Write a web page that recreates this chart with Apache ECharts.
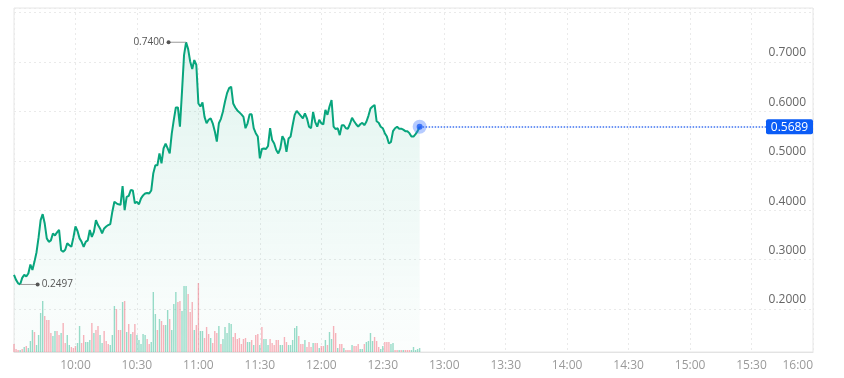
<!DOCTYPE html>
<html><head><meta charset="utf-8">
<script src="https://cdn.jsdelivr.net/npm/echarts@6/dist/echarts.min.js"></script>
<style>html,body{margin:0;padding:0;background:#fff}#c{width:844px;height:378px}</style>
</head><body><div id="c"></div>
<script>
// one value per minute, starting at 09:30
const tickLabels = ['09:30','10:00','10:30','11:00','11:30','12:00','12:30','13:00','13:30','14:00','14:30','15:00','15:30','16:00'];
const sessionMinutes = 390;
const price = [
0.269,0.259,0.252,0.2497,0.263,0.269,0.266,0.272,0.290,0.279,
0.296,0.315,0.345,0.380,0.392,0.373,0.343,0.336,0.339,0.353,
0.349,0.355,0.360,0.319,0.316,0.320,0.333,0.329,0.326,0.345,
0.367,0.358,0.343,0.336,0.326,0.336,0.339,0.360,0.346,0.356,
0.380,0.370,0.363,0.353,0.363,0.367,0.370,0.372,0.397,0.417,
0.414,0.412,0.411,0.449,0.400,0.427,0.429,0.441,0.440,0.414,
0.417,0.412,0.424,0.430,0.434,0.435,0.434,0.440,0.475,0.491,
0.491,0.515,0.495,0.525,0.535,0.525,0.515,0.555,0.583,0.608,
0.608,0.569,0.640,0.714,0.740,0.726,0.701,0.686,0.704,0.694,
0.616,0.610,0.618,0.589,0.576,0.583,0.586,0.576,0.560,0.539,
0.576,0.585,0.600,0.620,0.637,0.647,0.650,0.616,0.608,0.602,
0.598,0.594,0.589,0.566,0.576,0.594,0.594,0.566,0.556,0.549,
0.505,0.524,0.525,0.524,0.530,0.566,0.542,0.535,0.522,0.515,
0.525,0.550,0.542,0.518,0.545,0.549,0.572,0.593,0.601,0.596,
0.591,0.586,0.596,0.586,0.569,0.566,0.599,0.579,0.569,0.583,
0.576,0.574,0.603,0.593,0.610,0.623,0.569,0.564,0.566,0.552,
0.572,0.572,0.566,0.565,0.575,0.587,0.580,0.574,0.569,0.574,
0.577,0.572,0.579,0.591,0.606,0.610,0.613,0.580,0.577,0.569,
0.566,0.556,0.549,0.535,0.538,0.560,0.566,0.569,0.565,0.565,
0.563,0.560,0.560,0.556,0.549,0.549,0.554,0.560,0.5689
];
const volume = [
8,3,2,2,3,5,6,4,11,22,
20,7,17,39,51,36,32,32,19,16,
21,21,17,19,29,9,17,7,5,4,
6,9,26,9,17,10,10,12,29,19,
22,26,17,9,21,11,8,7,17,46,
43,22,22,50,51,20,28,18,20,28,
17,12,8,18,17,13,8,10,60,38,
22,33,31,27,27,42,33,22,48,60,
50,51,41,66,66,58,40,50,22,27,
69,21,21,14,25,18,14,9,21,19,
26,8,13,25,19,29,28,15,19,13,
14,8,13,14,10,10,12,7,17,18,
7,25,13,13,7,13,9,7,12,12,
7,7,15,10,7,7,12,24,26,16,
8,8,12,5,10,5,9,9,9,4,
6,6,12,7,20,13,26,19,4,8,
8,4,2,2,2,7,6,6,8,3,
3,8,10,11,19,11,15,11,5,3,
6,10,10,10,8,9,2,2,2,2,
2,2,2,2,2,5,2,3,4
];
// per-minute volume direction (u = up/green, d = down/red)
const volDir = [
'd','d','d','u','d','u','d','u','u','u',
'd','u','u','u','u','d','d','d','d','u',
'u','d','d','u','d','d','u','u','d','d',
'd','u','u','d','d','u','u','u','d','u',
'd','d','u','u','d','d','d','u','u','u',
'd','d','d','u','d','u','d','u','d','d',
'u','u','u','u','u','d','d','u','u','u',
'd','u','d','d','u','u','d','u','u','u',
'd','d','u','u','u','d','d','d','u','d',
'd','u','u','d','d','d','u','d','d','d',
'u','d','u','u','u','u','u','d','d','d',
'd','d','d','d','u','u','d','u','d','d',
'u','d','u','u','u','d','d','d','d','d',
'u','u','d','d','u','u','u','u','u','d',
'd','d','u','d','d','d','u','d','d','u',
'd','d','u','d','u','u','d','d','u','d',
'd','u','d','d','d','u','d','d','d','u',
'u','d','u','u','u','u','d','d','d','u',
'u','d','d','d','u','u','d','d','u','d',
'u','d','d','d','u','u','u','u','u'
];
const FONT = '"Open Sans", "Noto Sans", sans-serif';
const chart = echarts.init(document.getElementById('c'), null, {renderer:'canvas'});
const lastIdx = price.length - 1;
const lastPrice = price[lastIdx];
let maxIdx = 0, minIdx = 0;
price.forEach((p,i)=>{ if(p>price[maxIdx]) maxIdx=i; if(p<price[minIdx]) minIdx=i; });

chart.setOption({
  animation:false,
  textStyle:{fontFamily:FONT},
  grid:{left:14,right:31,top:8,bottom:26,show:true,borderColor:'#e6e6e6',borderWidth:1},
  xAxis:{type:'value',min:0,max:sessionMinutes,interval:30,
    axisLine:{show:true,lineStyle:{color:'#e3e3e3'}},axisTick:{show:false},
    splitLine:{show:true,lineStyle:{color:'#eaeaea',type:[2,3]}},
    axisLabel:{color:'#9a9a9a',fontSize:12,margin:8,fontFamily:FONT,alignMaxLabel:'right',
      formatter:v=> v===0 ? '' : tickLabels[Math.round(v/30)]}},
  yAxis:[
    {type:'value',position:'right',min:0.113,max:0.8093,splitNumber:7,scale:true,
     axisLine:{show:false},axisTick:{show:false},
     splitLine:{show:true,lineStyle:{color:'#eaeaea',type:[2,3]}},
     axisLabel:{inside:true,color:'#666',fontSize:12,margin:7,fontFamily:FONT,verticalAlign:'bottom',padding:[0,0,3,0],
       formatter:v=> (v<0.15||v>0.75) ? '' : v.toFixed(4)}},
    {type:'value',min:0,max:344,show:false,splitLine:{show:false}}
  ],
  series:[
    {type:'bar',yAxisIndex:1,barWidth:1.4,z:1,silent:true,
     data:volume.map((v,i)=>({value:[i,v],itemStyle:{color: volDir[i]==='u' ? 'rgba(28,178,136,0.45)' : 'rgba(245,95,112,0.48)'}}))},
    {type:'line',data:price.map((p,i)=>[i,p]),showSymbol:false,z:3,
     lineStyle:{color:'#08a57d',width:2},
     areaStyle:{color:new echarts.graphic.LinearGradient(0,0,0,1,[
        {offset:0,color:'rgba(22,170,130,0.18)'},{offset:1,color:'rgba(22,170,130,0.02)'}])},
     markLine:{symbol:'none',silent:true,animation:false,
       lineStyle:{color:'#3f73f0',type:'dotted',width:1.5},label:{show:false},
       data:[[{coord:[lastIdx,lastPrice]},{coord:[sessionMinutes,lastPrice]}]]}},
    {type:'scatter',data:[[lastIdx,lastPrice]],symbolSize:14,z:5,silent:true,
     itemStyle:{color:'rgba(52,110,255,0.45)'}},
    {type:'scatter',data:[[lastIdx,lastPrice]],symbolSize:6,z:6,silent:true,
     itemStyle:{color:'#1d5cf5'}}
  ]
});

const pMax = chart.convertToPixel({xAxisIndex:0,yAxisIndex:0},[maxIdx,price[maxIdx]]);
const pMin = chart.convertToPixel({xAxisIndex:0,yAxisIndex:0},[minIdx,price[minIdx]]);
const pLast = chart.convertToPixel({xAxisIndex:0,yAxisIndex:0},[lastIdx,lastPrice]);
const gridRight = 844 - 31;
const lead = 17.5;
chart.setOption({graphic:[
  {type:'line',shape:{x1:pMax[0]-lead,y1:pMax[1],x2:pMax[0],y2:pMax[1]},style:{stroke:'#9a9a9a',lineWidth:1},z:10},
  {type:'circle',shape:{cx:pMax[0]-lead,cy:pMax[1],r:2},style:{fill:'#555'},z:10},
  {type:'text',x:pMax[0]-lead-4,y:pMax[1],style:{text:price[maxIdx].toFixed(4),fill:'#555',font:'10px '+FONT,align:'right',verticalAlign:'middle'},z:10},
  {type:'line',shape:{x1:pMin[0],y1:pMin[1],x2:pMin[0]+lead,y2:pMin[1]},style:{stroke:'#9a9a9a',lineWidth:1},z:10},
  {type:'circle',shape:{cx:pMin[0]+lead,cy:pMin[1],r:2},style:{fill:'#555'},z:10},
  {type:'text',x:pMin[0]+lead+4,y:pMin[1],style:{text:price[minIdx].toFixed(4),fill:'#555',font:'10px '+FONT,align:'left',verticalAlign:'middle'},z:10},
  {type:'rect',shape:{x:gridRight-47,y:pLast[1]-7.5,width:47,height:15,r:2},style:{fill:'#0b5cf6'},z:10},
  {type:'text',x:gridRight-23.5,y:pLast[1]+0.5,style:{text:lastPrice.toFixed(4),fill:'#fff',font:'12px '+FONT,align:'center',verticalAlign:'middle'},z:11}
]});
</script>
</body></html>
